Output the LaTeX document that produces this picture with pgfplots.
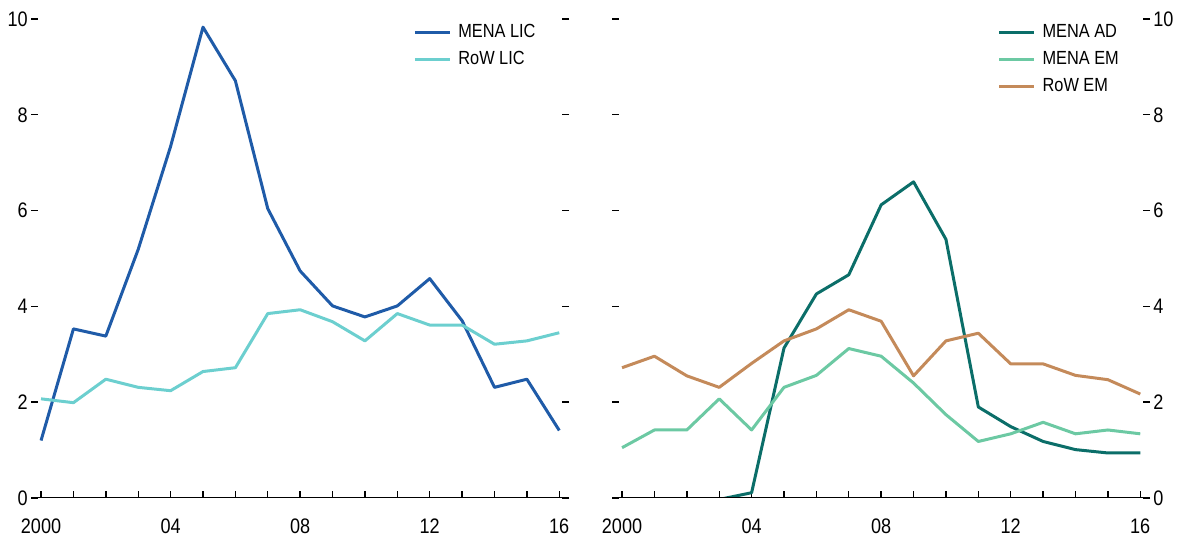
\documentclass[border=0pt]{standalone}
\usepackage{fontspec}
\setmainfont{Liberation Sans}[FakeStretch=0.86]
\usepackage{pgfplots}
\pgfplotsset{compat=1.18}

\definecolor{menalic}{HTML}{1F5BA8}
\definecolor{rowlic}{HTML}{6CCFCF}
\definecolor{menaad}{HTML}{0B6E69}
\definecolor{menaem}{HTML}{6CC9A3}
\definecolor{rowem}{HTML}{C48A5A}

\pgfplotsset{
  panel/.style={
    scale only axis, width=269pt, height=239.5pt,
    xmin=1999.69, xmax=2016.3, ymin=0, ymax=10,
    axis line style={draw=none},
    xtick={2000,...,2016},
    xticklabels={2000,,,,04,,,,08,,,,12,,,,16},
    xtick pos=left, tick align=inside,
    major tick length=3.6pt,
    tick style={black, line width=0.7pt},
    ytick={0,2,...,10}, yticklabels={0,2,4,6,8,10},
    ticklabel style={font=\fontsize{10.5}{12}\selectfont},
    xticklabel style={yshift=-7pt},
    yticklabel style={inner sep=1.5pt},
    legend cell align=left,
    legend image code/.code={\draw[##1] (0pt,0pt) -- (17.5pt,0pt);},
    legend style={draw=none, fill=none, inner sep=0pt,
      font=\fontsize{9.5}{11}\selectfont, row sep=0.5pt,
      nodes={text height=7pt, text depth=2pt, inner xsep=3.5pt}},
    every axis plot/.append style={line width=1.5pt, no markers, line join=round},
  }
}

\begin{document}
\begin{tikzpicture}
\path[use as bounding box] (0,0) rectangle (589pt,270pt);

% left panel: low-income countries
\begin{axis}[panel, at={(15.5pt,21pt)}, anchor=south west,
  yticklabel pos=left,
  legend style={at={(0.71,1)}, anchor=north west}]
\addplot[menalic] coordinates {
  (2000,1.20) (2001,3.53) (2002,3.38) (2003,5.19) (2004,7.34) (2005,9.83)
  (2006,8.71) (2007,6.04) (2008,4.74) (2009,4.01) (2010,3.78) (2011,4.01)
  (2012,4.58) (2013,3.70) (2014,2.31) (2015,2.48) (2016,1.41)};
\addlegendentry{MENA LIC}
\addplot[rowlic] coordinates {
  (2000,2.07) (2001,1.99) (2002,2.48) (2003,2.31) (2004,2.24) (2005,2.64)
  (2006,2.72) (2007,3.85) (2008,3.93) (2009,3.68) (2010,3.28) (2011,3.85)
  (2012,3.61) (2013,3.61) (2014,3.21) (2015,3.28) (2016,3.45)};
\addlegendentry{RoW LIC}
\draw[black, line width=0.7pt] (rel axis cs:0,0) -- (rel axis cs:1,0);
\end{axis}

% right panel: advanced and emerging economies
\begin{axis}[panel, at={(306pt,21pt)}, anchor=south west,
  yticklabel pos=right,
  legend style={at={(0.716,1)}, anchor=north west}]
\addplot[menaad] coordinates {
  (2003,-0.03) (2004,0.11) (2005,3.13) (2006,4.26) (2007,4.66) (2008,6.12)
  (2009,6.60) (2010,5.40) (2011,1.90) (2012,1.49) (2013,1.18) (2014,1.01)
  (2015,0.94) (2016,0.94)};
\addlegendentry{MENA AD}
\addplot[menaem] coordinates {
  (2000,1.05) (2001,1.42) (2002,1.42) (2003,2.07) (2004,1.42) (2005,2.31)
  (2006,2.56) (2007,3.12) (2008,2.96) (2009,2.40) (2010,1.74) (2011,1.18)
  (2012,1.34) (2013,1.58) (2014,1.34) (2015,1.42) (2016,1.34)};
\addlegendentry{MENA EM}
\addplot[rowem] coordinates {
  (2000,2.72) (2001,2.96) (2002,2.55) (2003,2.31) (2004,2.81) (2005,3.28)
  (2006,3.53) (2007,3.93) (2008,3.69) (2009,2.55) (2010,3.28) (2011,3.44)
  (2012,2.80) (2013,2.80) (2014,2.56) (2015,2.47) (2016,2.17)};
\addlegendentry{RoW EM}
\draw[black, line width=0.7pt] (rel axis cs:0,0) -- (rel axis cs:1,0);
\end{axis}
\end{tikzpicture}
\end{document}
